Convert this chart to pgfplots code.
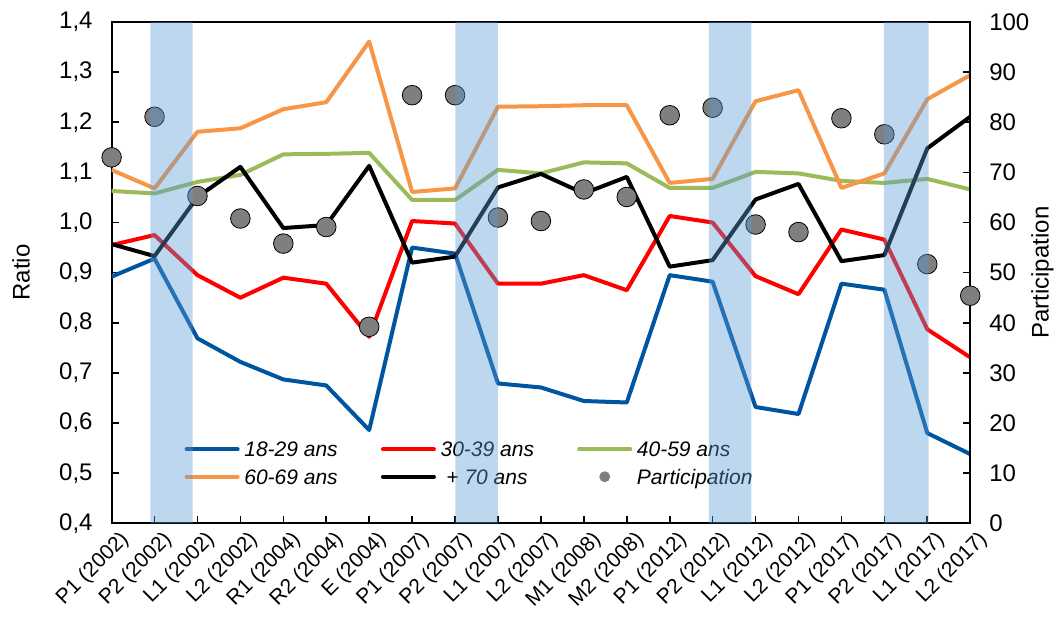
\documentclass[border=0pt]{standalone}
\usepackage{fontspec}
\setmainfont{Liberation Sans}
\usepackage{pgfplots}
\usepackage{pgfplotstable}
\pgfplotsset{compat=1.18}

\definecolor{cA}{RGB}{0,85,160}
\definecolor{cB}{RGB}{255,0,0}
\definecolor{cC}{RGB}{155,187,89}
\definecolor{cD}{RGB}{247,150,70}
\definecolor{cP}{RGB}{127,127,127}
\definecolor{band}{RGB}{91,155,213}

% idx: P1(2002) ... L2(2017)
\pgfplotstableread{
idx a     b     c     d     e     part
0   0.892 0.955 1.063 1.105 0.957 73.0
1   0.928 0.975 1.058 1.068 0.933 81.1
2   0.769 0.895 1.081 1.181 1.051 65.3
3   0.722 0.850 1.095 1.188 1.111 60.8
4   0.687 0.890 1.136 1.226 0.989 55.8
5   0.675 0.878 1.137 1.240 0.995 59.1
6   0.586 0.772 1.139 1.361 1.113 39.2
7   0.950 1.003 1.045 1.061 0.920 85.4
8   0.938 0.998 1.045 1.068 0.932 85.4
9   0.679 0.878 1.105 1.231 1.070 61.0
10  0.671 0.878 1.098 1.232 1.097 60.3
11  0.644 0.895 1.120 1.234 1.058 66.6
12  0.641 0.865 1.118 1.234 1.091 65.1
13  0.895 1.013 1.069 1.079 0.912 81.4
14  0.882 1.000 1.069 1.087 0.925 82.9
15  0.632 0.893 1.101 1.242 1.046 59.6
16  0.618 0.857 1.098 1.264 1.077 58.1
17  0.878 0.986 1.083 1.069 0.923 80.8
18  0.866 0.966 1.079 1.098 0.935 77.6
19  0.580 0.787 1.087 1.246 1.148 51.7
20  0.538 0.731 1.066 1.294 1.211 45.4
}\data

\pgfplotsset{
  base/.style={
    scale only axis, width=429.3pt, height=250.65pt,
    xmin=0, xmax=20,
    tick align=inside, major tick length=3.5pt,
    axis line style={line width=1pt, -},
    every tick/.style={black, line width=0.8pt},
    tick label style={font=\fontsize{12}{14}\selectfont},
    /pgf/number format/assume math mode=true,
  },
  ser/.style={line width=2pt, line join=round, #1},
}

\begin{document}
\begin{tikzpicture}
\begin{axis}[base,
  ymin=0.4, ymax=1.4,
  ytick={0.4,0.5,0.6,0.7,0.8,0.9,1.0,1.1,1.2,1.3,1.4},
  /pgf/number format/use comma,
  /pgf/number format/fixed,
  /pgf/number format/fixed zerofill,
  /pgf/number format/precision=1,
  ytick pos=left, xtick pos=bottom,
  yticklabel style={xshift=-6pt},
  xtick={0,...,20},
  xticklabels={P1 (2002),P2 (2002),L1 (2002),L2 (2002),R1 (2004),R2 (2004),E (2004),P1 (2007),P2 (2007),L1 (2007),L2 (2007),M1 (2008),M2 (2008),P1 (2012),P2 (2012),L1 (2012),L2 (2012),P1 (2017),P2 (2017),L1 (2017),L2 (2017)},
  xticklabel style={rotate=45, anchor=east, inner sep=0pt, xshift=0.5pt, yshift=-9.5pt, font=\fontsize{10.5}{12}\selectfont},
  ylabel={Ratio},
  every axis y label/.style={at={(axis description cs:-0.1054,0.5)}, rotate=90, anchor=center, font=\fontsize{12}{14}\selectfont},
  legend columns=3,
  legend cell align=left,
  legend image code/.code={\draw[#1, line cap=round] (0pt,0pt) -- (25.5pt,0pt);},
  legend style={draw=none, fill=none, inner sep=0pt, at={(0.0846,0.1203)}, anchor=west,
    font=\itshape\fontsize{10.5}{12}\selectfont,
    nodes={inner sep=0pt, text height=7.5pt, text depth=0pt},
    row sep=6.2pt,
    /tikz/every odd column/.append style={column sep=2.35pt},
    /tikz/every even column/.append style={column sep=21.6pt}},
]
\addplot[ser=cA] table[x=idx, y=a] {\data};
\addlegendentry{18-29 ans}
\addplot[ser=cB] table[x=idx, y=b] {\data};
\addlegendentry{30-39 ans}
\addplot[ser=cC] table[x=idx, y=c] {\data};
\addlegendentry{40-59 ans}
\addplot[ser=cD] table[x=idx, y=d] {\data};
\addlegendentry{60-69 ans}
\addplot[ser=black] table[x=idx, y=e] {\data};
\addlegendentry{\hspace{2.9pt}+ 70 ans}
\addlegendimage{only marks, mark=*, cP, mark options={draw=cP, fill=cP},
  legend image code/.code={\fill[cP] (12.75pt,0pt) circle[radius=2.5pt];}}
\addlegendentry{Participation}
\end{axis}

\begin{axis}[base,
  ymin=0, ymax=100,
  ytick={0,10,...,100},
  axis x line=none, axis y line*=right, ytick pos=right,
  yticklabel style={xshift=6pt},
  ylabel={Participation},
  every axis y label/.style={at={(axis description cs:1.084,0.5)}, rotate=90, anchor=center, font=\fontsize{12}{14}\selectfont},
  clip=false,
]
\addplot[only marks, mark=*, mark size=4.9pt, mark options={draw=none, fill=cP}] table[x=idx, y=part] {\data};
\end{axis}

\begin{axis}[base, ymin=0, ymax=1, hide axis]
\addplot[fill=band, fill opacity=0.4, draw=none] coordinates {(0.904,0) (0.904,1) (1.89,1) (1.89,0)} \closedcycle;
\addplot[fill=band, fill opacity=0.4, draw=none] coordinates {(8.01,0) (8.01,1) (9.0,1) (9.0,0)} \closedcycle;
\addplot[fill=band, fill opacity=0.4, draw=none] coordinates {(13.91,0) (13.91,1) (14.9,1) (14.9,0)} \closedcycle;
\addplot[fill=band, fill opacity=0.4, draw=none] coordinates {(17.99,0) (17.99,1) (19.03,1) (19.03,0)} \closedcycle;
\end{axis}

\pgfresetboundingbox
\useasboundingbox (-55.8pt,-47.35pt) rectangle (473.2pt,261.65pt);
\end{tikzpicture}
\end{document}
